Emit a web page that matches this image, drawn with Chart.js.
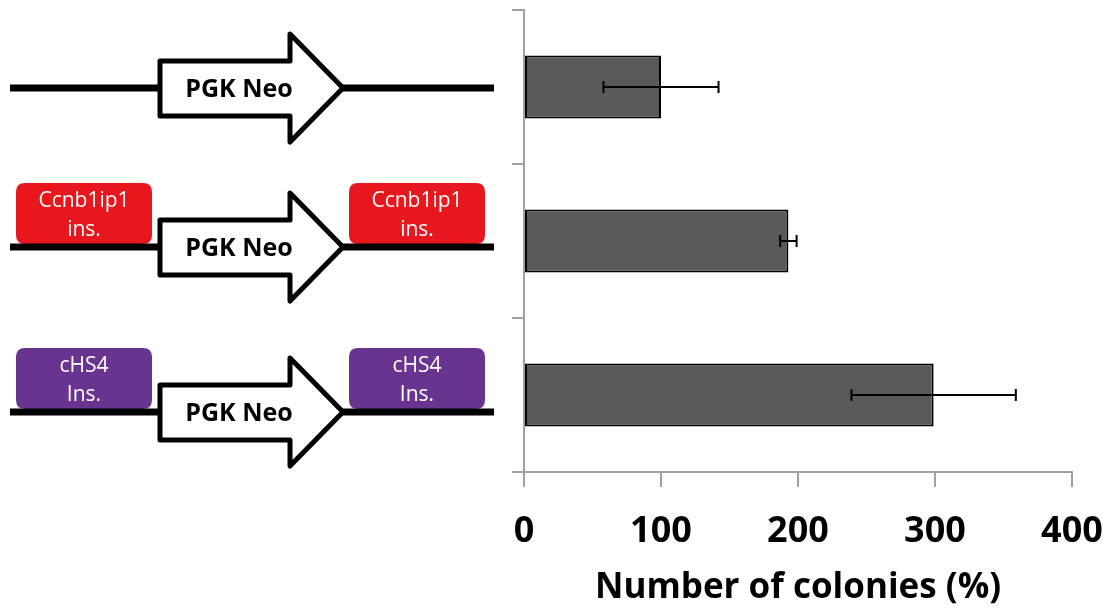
<!DOCTYPE html>
<html>
<head>
<meta charset="utf-8">
<script src="https://cdn.jsdelivr.net/npm/chart.js@4.4.1/dist/chart.umd.min.js"></script>
<style>
html,body{margin:0;padding:0;background:#fff;}
#wrap{width:1105px;height:611px;position:relative;}
</style>
</head>
<body>
<div id="wrap"><canvas id="c" width="1105" height="611"></canvas></div>
<script>
const categories = ['PGK Neo', 'Ccnb1ip1 ins. + PGK Neo', 'cHS4 Ins. + PGK Neo'];
const colonies = [100, 193, 299];
const errors = [42, 6, 60];
const xTicks = [0, 100, 200, 300, 400];
const insulatorText = [null, ['Ccnb1ip1', 'ins.'], ['cHS4', 'Ins.']];
const insulatorColors = [null, '#e8171d', '#69348f'];
const axisTitle = 'Number of colonies (%)';
const cassetteLabel = 'PGK Neo';

const errorBars = {
  id: 'errorBars',
  afterDatasetsDraw(chart) {
    const ctx = chart.ctx, xs = chart.scales.x, ys = chart.scales.y;
    ctx.save();
    ctx.strokeStyle = '#000';
    ctx.lineWidth = 2;
    colonies.forEach((v, i) => {
      const y = ys.getPixelForValue(i);
      const x1 = xs.getPixelForValue(v - errors[i]);
      const x2 = xs.getPixelForValue(v + errors[i]);
      ctx.beginPath();
      ctx.moveTo(x1, y); ctx.lineTo(x2, y);
      ctx.moveTo(x1, y - 6); ctx.lineTo(x1, y + 6);
      ctx.moveTo(x2, y - 6); ctx.lineTo(x2, y + 6);
      ctx.stroke();
    });
    ctx.restore();
  }
};

function roundRect(ctx, x, y, w, h, r) {
  ctx.beginPath();
  ctx.moveTo(x + r, y);
  ctx.lineTo(x + w - r, y); ctx.quadraticCurveTo(x + w, y, x + w, y + r);
  ctx.lineTo(x + w, y + h - r); ctx.quadraticCurveTo(x + w, y + h, x + w - r, y + h);
  ctx.lineTo(x + r, y + h); ctx.quadraticCurveTo(x, y + h, x, y + h - r);
  ctx.lineTo(x, y + r); ctx.quadraticCurveTo(x, y, x + r, y);
  ctx.closePath();
}

const diagrams = {
  id: 'diagrams',
  afterDraw(chart) {
    const ctx = chart.ctx;
    ctx.save();
    categories.forEach((c, i) => {
      const lineY = [88, 247, 412][i];
      if (insulatorText[i]) {
        const top = lineY - 64, h = 61;
        [16, 349].forEach(bx => {
          ctx.fillStyle = insulatorColors[i];
          roundRect(ctx, bx, top, 136, h, 9);
          ctx.fill();
          ctx.fillStyle = '#fff';
          ctx.font = '21px "Open Sans", sans-serif';
          ctx.textAlign = 'center';
          ctx.textBaseline = 'middle';
          ctx.fillText(insulatorText[i][0], bx + 68, top + 18);
          ctx.fillText(insulatorText[i][1], bx + 68, top + 47);
        });
      }
      ctx.fillStyle = '#000';
      ctx.fillRect(10, lineY - 3.5, 484, 7);
      ctx.beginPath();
      ctx.moveTo(160, lineY - 27);
      ctx.lineTo(290, lineY - 27);
      ctx.lineTo(290, lineY - 54);
      ctx.lineTo(343, lineY);
      ctx.lineTo(290, lineY + 54);
      ctx.lineTo(290, lineY + 28);
      ctx.lineTo(160, lineY + 28);
      ctx.closePath();
      ctx.fillStyle = '#fff';
      ctx.fill();
      ctx.lineWidth = 5;
      ctx.lineJoin = 'round';
      ctx.strokeStyle = '#000';
      ctx.stroke();
      ctx.fillStyle = '#000';
      ctx.font = 'bold 25px "Open Sans", sans-serif';
      ctx.textAlign = 'center';
      ctx.textBaseline = 'middle';
      ctx.fillText(cassetteLabel, 239, lineY + 2);
    });
    ctx.restore();
  }
};

new Chart(document.getElementById('c'), {
  type: 'bar',
  data: {
    labels: categories,
    datasets: [{
      data: colonies,
      backgroundColor: '#585a59',
      borderColor: '#000',
      borderWidth: 2,
      borderSkipped: false,
      barPercentage: 0.41,
      categoryPercentage: 1
    }]
  },
  options: {
    indexAxis: 'y',
    responsive: false,
    animation: false,
    devicePixelRatio: 1,
    layout: { padding: { top: 10, right: 33, left: 0, bottom: 0 } },
    plugins: { legend: { display: false }, tooltip: { enabled: false } },
    scales: {
      y: {
        grid: { drawOnChartArea: false, color: '#a0a0a0', lineWidth: 2, tickLength: 12, offset: true },
        border: { color: '#a0a0a0', width: 2 },
        ticks: { display: false },
        afterFit(s) { s.width = 524; s.paddingTop = 0; s.paddingBottom = 0; }
      },
      x: {
        min: 0, max: 400,
        afterBuildTicks(s) { s.ticks = xTicks.map(v => ({ value: v })); },
        grid: { drawOnChartArea: false, color: '#a0a0a0', lineWidth: 2, tickLength: 15 },
        border: { color: '#a0a0a0', width: 2 },
        ticks: { color: '#000', padding: 23, maxRotation: 0, font: { family: '"Open Sans", sans-serif', weight: 'bold', size: 36 } },
        title: { display: true, text: axisTitle, color: '#000', padding: { top: 0, bottom: 2 }, font: { family: '"Open Sans", sans-serif', weight: 'bold', size: 35 } },
        afterFit(s) { s.height = 139; s.paddingLeft = 0; s.paddingRight = 0; }
      }
    }
  },
  plugins: [errorBars, diagrams]
});
</script>
</body>
</html>
